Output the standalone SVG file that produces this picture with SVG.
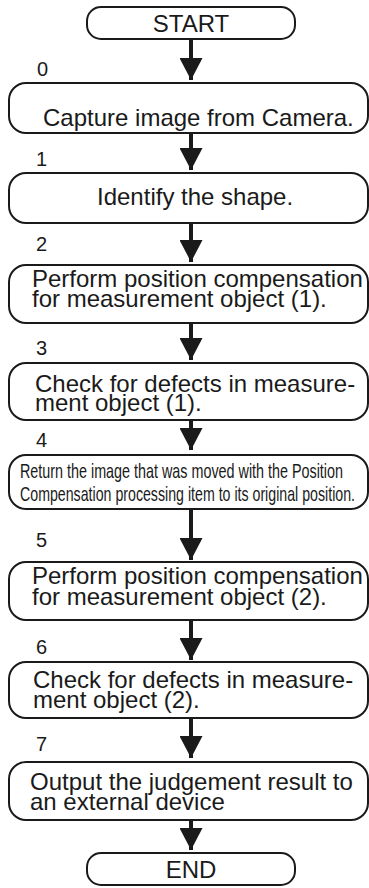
<svg xmlns="http://www.w3.org/2000/svg" width="369" height="888" viewBox="0 0 369 888">
<defs>
<style>
.box{fill:#fff;stroke:#1a1a1a;stroke-width:2}
.t{font-family:"Liberation Sans",Arial,sans-serif;font-size:24px;fill:#1a1a1a}
.n{font-family:"Liberation Sans",Arial,sans-serif;font-size:20px;fill:#1a1a1a}
.nar{font-family:"Liberation Sans Narrow","Liberation Sans",Arial,sans-serif;font-size:21px;fill:#1a1a1a}
.c{stroke:#1a1a1a;stroke-width:4;fill:none}
</style>
<marker id="ah" markerUnits="userSpaceOnUse" markerWidth="22" markerHeight="23" refX="22" refY="11.5" orient="auto" viewBox="0 0 22 23">
<path d="M0,0 L22,11.5 L0,23 Z" fill="#1a1a1a"/>
</marker>
</defs>
<rect width="369" height="888" fill="#fff"/>
<g id="connectors">
<line class="c" x1="191" y1="39" x2="191" y2="80" marker-end="url(#ah)"/>
<line class="c" x1="191" y1="133" x2="191" y2="170" marker-end="url(#ah)"/>
<line class="c" x1="191" y1="223" x2="191" y2="262" marker-end="url(#ah)"/>
<line class="c" x1="191" y1="323" x2="191" y2="360" marker-end="url(#ah)"/>
<line class="c" x1="191" y1="420" x2="191" y2="450" marker-end="url(#ah)"/>
<line class="c" x1="191" y1="509" x2="191" y2="560" marker-end="url(#ah)"/>
<line class="c" x1="191" y1="620" x2="191" y2="660" marker-end="url(#ah)"/>
<line class="c" x1="191" y1="718" x2="191" y2="758" marker-end="url(#ah)"/>
<line class="c" x1="191" y1="820" x2="191" y2="850" marker-end="url(#ah)"/>
</g>
<g id="start">
<rect class="box" x="87" y="7" width="208" height="32" rx="14" ry="14"/>
<text class="t" x="191" y="32" text-anchor="middle">START</text>
</g>
<g id="step0">
<text class="n" x="37" y="76">0</text>
<rect class="box" x="9" y="83" width="359" height="50" rx="17" ry="17"/>
<text class="t" x="43" y="126">Capture image from Camera.</text>
</g>
<g id="step1">
<text class="n" x="36" y="166">1</text>
<rect class="box" x="9" y="173" width="359" height="50" rx="17" ry="17"/>
<text class="t" x="97" y="205">Identify the shape.</text>
</g>
<g id="step2">
<text class="n" x="36" y="251">2</text>
<rect class="box" x="9" y="265" width="359" height="58" rx="17" ry="17"/>
<text class="t" x="32" y="287">Perform position compensation</text>
<text class="t" x="32" y="307">for measurement object (1).</text>
</g>
<g id="step3">
<text class="n" x="36" y="355">3</text>
<rect class="box" x="9" y="363" width="359" height="57" rx="17" ry="17"/>
<text class="t" x="35" y="392">Check for defects in measure-</text>
<text class="t" x="35" y="411">ment object (1).</text>
</g>
<g id="step4">
<text class="n" x="36" y="447">4</text>
<rect class="box" x="9" y="455" width="359" height="54" rx="17" ry="17"/>
<text class="nar" x="20" y="478" textLength="323" lengthAdjust="spacingAndGlyphs">Return the image that was moved with the Position</text>
<text class="nar" x="20" y="501" textLength="335" lengthAdjust="spacingAndGlyphs">Compensation processing item to its original position.</text>
</g>
<g id="step5">
<text class="n" x="36" y="547">5</text>
<rect class="box" x="9" y="562" width="359" height="58" rx="17" ry="17"/>
<text class="t" x="32" y="584">Perform position compensation</text>
<text class="t" x="32" y="605">for measurement object (2).</text>
</g>
<g id="step6">
<text class="n" x="36" y="654">6</text>
<rect class="box" x="9" y="662" width="359" height="56" rx="17" ry="17"/>
<text class="t" x="33" y="688">Check for defects in measure-</text>
<text class="t" x="33" y="708">ment object (2).</text>
</g>
<g id="step7">
<text class="n" x="36" y="751">7</text>
<rect class="box" x="9" y="762" width="359" height="58" rx="17" ry="17"/>
<text class="t" x="30" y="790">Output the judgement result to</text>
<text class="t" x="30" y="810">an external device</text>
</g>
<g id="end">
<rect class="box" x="87" y="853" width="208" height="32" rx="14" ry="14"/>
<text class="t" x="191" y="878" text-anchor="middle">END</text>
</g>
</svg>
